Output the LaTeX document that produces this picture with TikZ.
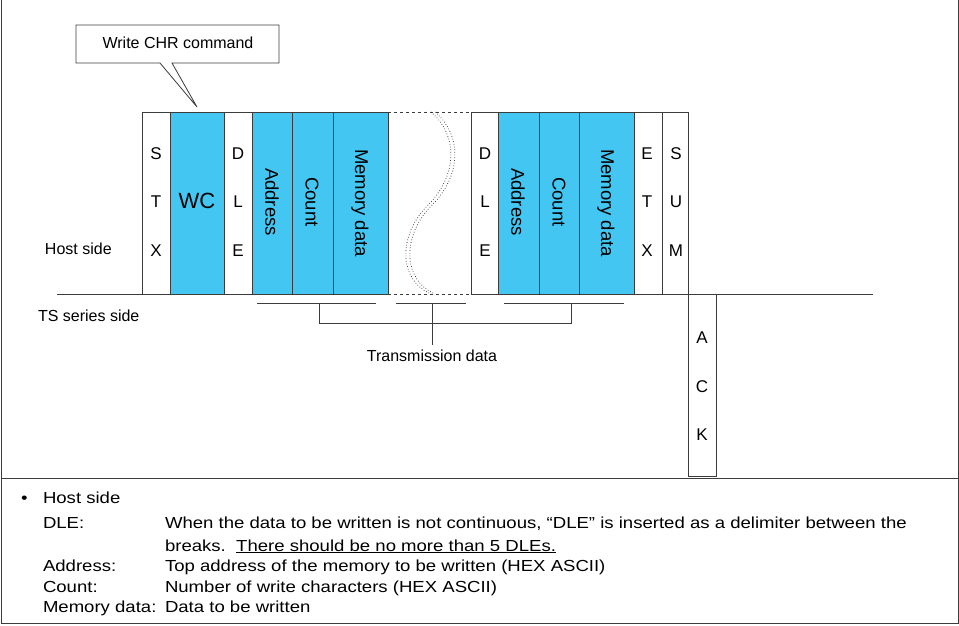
\documentclass[tikz,border=0pt]{standalone}
\usepackage{fontspec}
\setmainfont{Liberation Sans}
\usetikzlibrary{calc}
\definecolor{cellblue}{RGB}{68,198,242}
\definecolor{linegray}{RGB}{60,60,60}
\begin{document}
\begin{tikzpicture}[x=1pt,y=-1pt,
  every node/.style={font=\fontsize{16}{19}\selectfont, inner sep=0pt, outer sep=0pt},
  cell/.style={draw=linegray, line width=0.8pt, minimum height=182pt, anchor=north west},
  bcell/.style={cell, fill=cellblue},
  letters/.style={font=\fontsize{17}{48.5}\selectfont, align=center},
  vlabel/.style={rotate=-90, font=\fontsize{18.5}{20}\selectfont},
  rule/.style={draw=linegray, line width=0.8pt},
  wavy/.style={draw=black!85, dotted, line width=0.7pt},
  txt/.style={anchor=base west, xscale=1.16}
]
\useasboundingbox (0,0) rectangle (959,625);

% outer frame
\draw[rule] (1,0) -- (1,623) -- (958,623) -- (958,0);
\draw[rule] (1,478) -- (958,478);

% callout
\draw[rule, fill=white] (76,25) -- (279,25) -- (279,63) -- (172,63) -- (197,107) -- (160,63) -- (76,63) -- cycle;
\node (callout) at (178,43) {Write CHR command};

% cells
\node[cell,  minimum width=28pt] (stx)   at (142,112) {};
\node[bcell, minimum width=54pt] (wc)    at (170,112) {};
\node[cell,  minimum width=28pt] (dle1)  at (224,112) {};
\node[bcell, minimum width=40pt] (addr1) at (252,112) {};
\node[bcell, minimum width=41pt] (cnt1)  at (292,112) {};
\node[bcell, minimum width=55pt] (mem1)  at (333,112) {};
\node[cell,  minimum width=27pt] (dle2)  at (471,112) {};
\node[bcell, minimum width=41pt] (addr2) at (498,112) {};
\node[bcell, minimum width=40pt] (cnt2)  at (539,112) {};
\node[bcell, minimum width=55pt] (mem2)  at (579,112) {};
\node[cell,  minimum width=28pt] (etx)   at (634,112) {};
\node[cell,  minimum width=26pt] (sum)   at (662,112) {};
\node[cell,  minimum width=28pt, minimum height=182pt] (ack) at (688,294) {};

% cell texts
\node[letters] (stxt)  at (156,202) {S\\T\\X};
\node[font=\fontsize{22}{24}\selectfont] (wct) at (197,201) {WC};
\node[letters] (dle1t) at (238,202) {D\\L\\E};
\node[vlabel] (addr1t) at (272,202) {Address};
\node[vlabel] (cnt1t)  at (312,202) {Count};
\node[vlabel] (mem1t)  at (360,203) {Memory data};
\node[letters] (dle2t) at (485,202) {D\\L\\E};
\node[vlabel] (addr2t) at (518,202) {Address};
\node[vlabel] (cnt2t)  at (559,202) {Count};
\node[vlabel] (mem2t)  at (606,203) {Memory data};
\node[letters] (etxt)  at (647,202) {E\\T\\X};
\node[letters] (sumt)  at (676,202) {S\\U\\M};
\node[letters] (ackt)  at (702,386.5) {A\\C\\K};

% base line and break
\coordinate (baseL) at (57,294);
\coordinate (baseR) at (873,294);
\draw[rule] (baseL) -- (mem1.south east);
\draw[rule] (dle2.south west) -- (baseR);
\draw[rule, dashed] (mem1.north east) -- (dle2.north west);
\draw[rule, dashed] (mem1.south east) -- (dle2.south west);
\draw[wavy] (431,112) .. controls (458,135) and (458,175) .. (428,205) .. controls (398,235) and (398,280) .. (431,294);
\draw[wavy] (435,112) .. controls (462,135) and (462,175) .. (432,205) .. controls (402,235) and (402,280) .. (435,294);

% side labels
\node[anchor=west] (host) at (45,249) {Host side};
\node[anchor=west] (ts) at (38,316) {TS series side};

% brackets
\coordinate (b1l) at (257,303); \coordinate (b1r) at (376,303); \coordinate (b1m) at (319,303);
\coordinate (b2l) at (396,303); \coordinate (b2r) at (466,303); \coordinate (b2m) at (432,303);
\coordinate (b3l) at (504,303); \coordinate (b3r) at (624,303); \coordinate (b3m) at (571,303);
\coordinate (c1) at (319,323); \coordinate (c3) at (571,323); \coordinate (c2) at (432,345);
\draw[rule] (b1l) -- (b1r);
\draw[rule] (b2l) -- (b2r);
\draw[rule] (b3l) -- (b3r);
\draw[rule] (b1m) -- (c1) -- (c3) -- (b3m);
\draw[rule] (b2m) -- (c2);
\node (tdata) at (432,356) {Transmission data};

% legend
\node[txt] (bul) at (21,503) {\textbullet};
\node[txt] (l0) at (43,503) {Host side};
\node[txt] (l1) at (43,528) {DLE:};
\node[txt] (d1) at (165,528) {When the data to be written is not continuous, “DLE” is inserted as a delimiter between the};
\node[txt] (d1b) at (165,551) {breaks.\ \ \underline{There should be no more than 5 DLEs.}};
\node[txt] (l2) at (43,571) {Address:};
\node[txt] (d2) at (165,571) {Top address of the memory to be written (HEX ASCII)};
\node[txt] (l3) at (43,592) {Count:};
\node[txt] (d3) at (165,592) {Number of write characters (HEX ASCII)};
\node[txt] (l4) at (43,612) {Memory data:};
\node[txt] (d4) at (165,612) {Data to be written};
\end{tikzpicture}
\end{document}
